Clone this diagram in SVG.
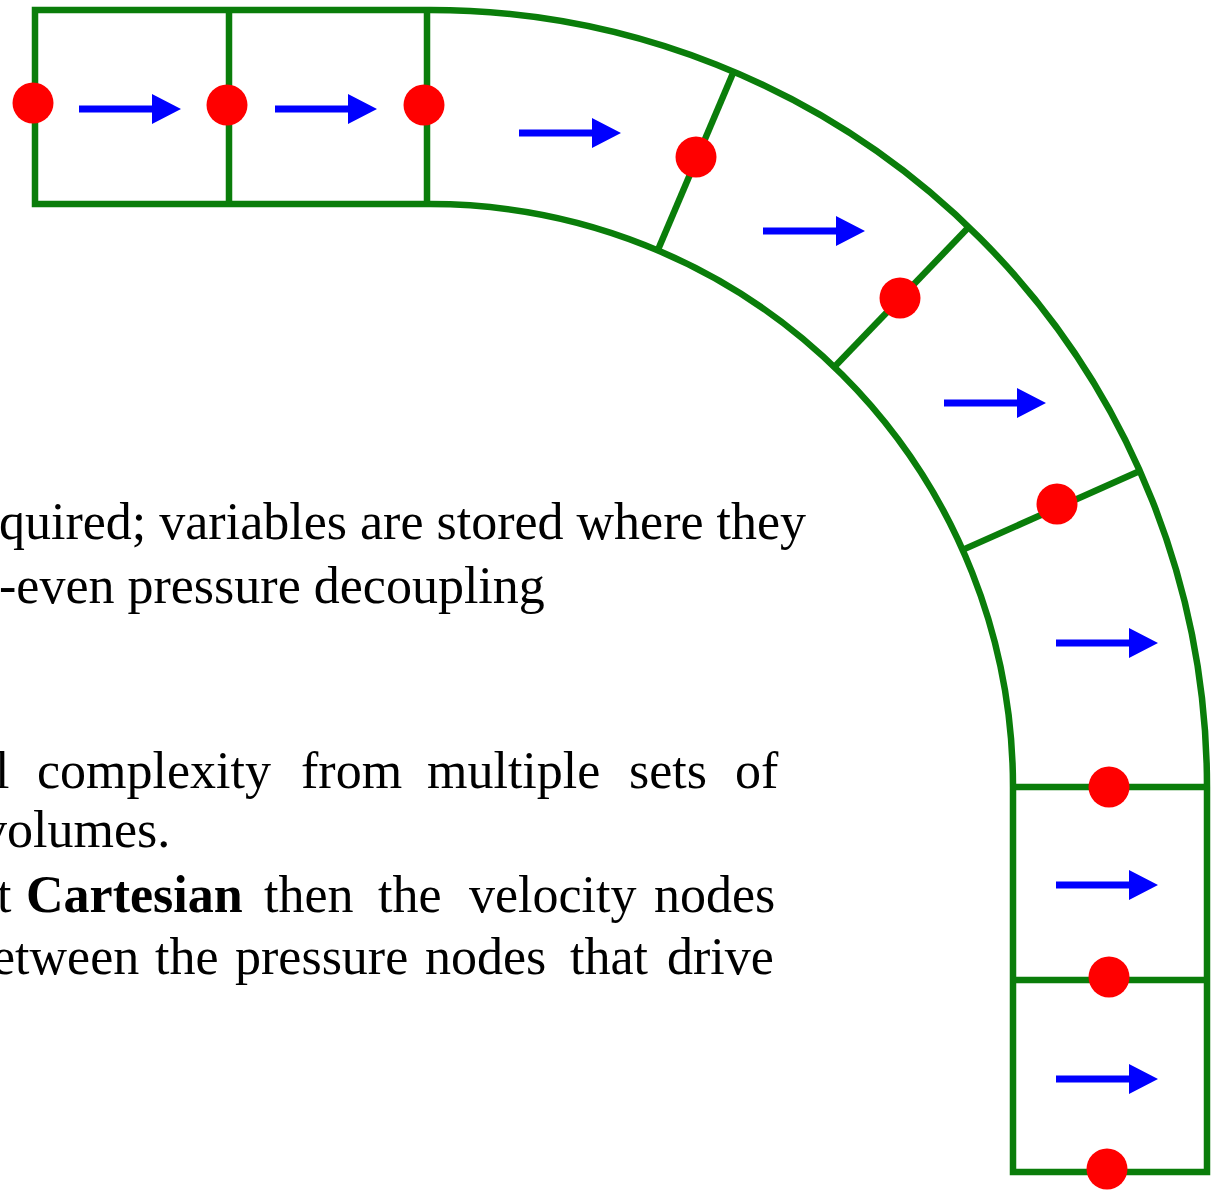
<svg xmlns="http://www.w3.org/2000/svg" width="1220" height="1190" viewBox="0 0 1220 1190">
  <defs>
    <style>
      .grid { fill: none; stroke: #0a7d0a; stroke-width: 6.5; stroke-linejoin: miter; }
      .node { fill: #ff0000; }
      .arrow { fill: #0000ff; }
      .txt { font-family: "Liberation Serif", "Times New Roman", serif; font-size: 52px; fill: #000; }
      .b { font-weight: bold; }
    </style>
    <path id="arr" d="M0,-3.5 H73 V-15 L102,0 L73,15 V3.5 H0 Z"/>
  </defs>
  <rect x="0" y="0" width="1220" height="1190" fill="#ffffff"/>

  <g id="text" class="txt">
    <text x="-1" y="539">quired; variables are stored where they</text>
    <text x="-1" y="603">-even pressure decoupling</text>
    <text y="788"><tspan x="-5">l</tspan><tspan x="37">complexity</tspan><tspan x="301">from</tspan><tspan x="427">multiple</tspan><tspan x="629">sets</tspan><tspan x="735">of</tspan></text>
    <text x="-19" y="847">volumes.</text>
    <text y="912"><tspan x="-3">t</tspan><tspan x="26" class="b">Cartesian</tspan><tspan x="264">then</tspan><tspan x="378">the</tspan><tspan x="469">velocity</tspan><tspan x="654">nodes</tspan></text>
    <text y="974"><tspan x="-8">etween</tspan><tspan x="155">the</tspan><tspan x="235">pressure</tspan><tspan x="425">nodes</tspan><tspan x="570">that</tspan><tspan x="667">drive</tspan></text>
  </g>

  <g id="connectors" class="grid">
    <path id="outline" d="M430,204 H35 V10 H430 A777,777 0 0 1 1207,787 V1172 H1013 V787 A583,583 0 0 0 430,204 Z"/>
    <line x1="229" y1="10" x2="229" y2="204"/>
    <line x1="427" y1="10" x2="427" y2="204"/>
    <line x1="733.6" y1="71.8" x2="657.8" y2="250.3"/>
    <line x1="968.8" y1="227.1" x2="834.3" y2="366.9"/>
    <line x1="1139.8" y1="471" x2="962.6" y2="549.9"/>
    <line x1="1013" y1="787" x2="1207" y2="787"/>
    <line x1="1013" y1="980" x2="1207" y2="980"/>
  </g>

  <g id="arrows" class="arrow">
    <use href="#arr" transform="translate(79,109)"/>
    <use href="#arr" transform="translate(275,109)"/>
    <use href="#arr" transform="translate(519,133)"/>
    <use href="#arr" transform="translate(763,231)"/>
    <use href="#arr" transform="translate(944,403)"/>
    <use href="#arr" transform="translate(1056,643)"/>
    <use href="#arr" transform="translate(1056,885)"/>
    <use href="#arr" transform="translate(1056,1079)"/>
  </g>

  <g id="nodes">
    <g id="p1"><circle class="node" cx="33" cy="103" r="20.5"/></g>
    <g id="p2"><circle class="node" cx="227" cy="105" r="20.5"/></g>
    <g id="p3"><circle class="node" cx="424" cy="105" r="20.5"/></g>
    <g id="p4"><circle class="node" cx="696" cy="157" r="20.5"/></g>
    <g id="p5"><circle class="node" cx="900" cy="298" r="20.5"/></g>
    <g id="p6"><circle class="node" cx="1057" cy="504" r="20.5"/></g>
    <g id="p7"><circle class="node" cx="1109" cy="787" r="20.5"/></g>
    <g id="p8"><circle class="node" cx="1109" cy="977" r="20.5"/></g>
    <g id="p9"><circle class="node" cx="1107" cy="1169" r="20.5"/></g>
  </g>
</svg>
